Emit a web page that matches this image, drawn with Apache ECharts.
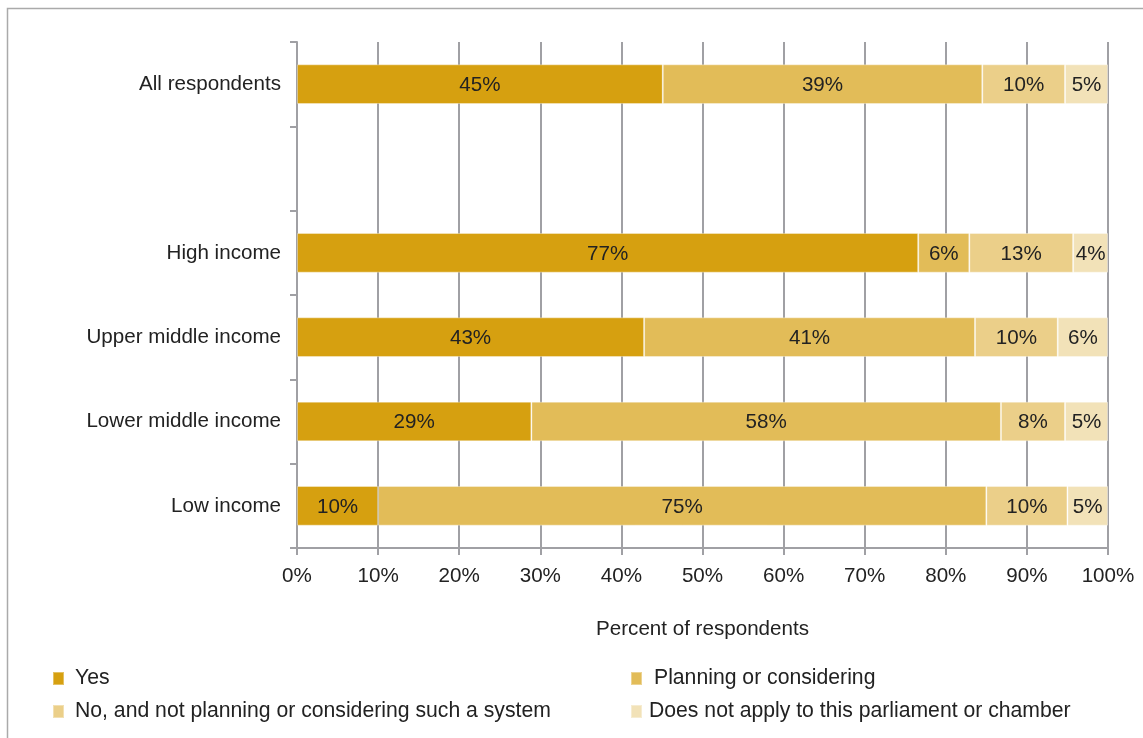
<!DOCTYPE html>
<html>
<head>
<meta charset="utf-8">
<script src="https://cdn.jsdelivr.net/npm/echarts@6/dist/echarts.min.js"></script>
<style>
html,body{margin:0;padding:0;background:#fff;}
#chart{width:1143px;height:738px;}
</style>
</head>
<body>
<div id="chart"></div>
<script>
const categories = ['All respondents', '', 'High income', 'Upper middle income', 'Lower middle income', 'Low income'];
const seriesNames = ['Yes', 'Planning or considering', 'No, and not planning or considering such a system', 'Does not apply to this parliament or chamber'];
const yesValues = [45.1, null, 76.6, 42.8, 28.9, 10.0];
const planningValues = [39.4, null, 6.3, 40.8, 57.9, 75.0];
const noValues = [10.2, null, 12.8, 10.2, 7.9, 10.0];
const naValues = [5.3, null, 4.3, 6.2, 5.3, 5.0];
const xTicks = [0, 10, 20, 30, 40, 50, 60, 70, 80, 90, 100];

const colors = ['#D6A010', '#E2BC58', '#EBCF89', '#F2E2B8'];
const FONT = '"Liberation Sans", Arial, sans-serif';
const chart = echarts.init(document.getElementById('chart'), null, {renderer: 'canvas'});

const allValues = [yesValues, planningValues, noValues, naValues];
const series = seriesNames.map((name, i) => ({
  name: name,
  type: 'bar',
  stack: 'total',
  barWidth: '47%',
  data: allValues[i],
  itemStyle: {color: colors[i], borderColor: 'rgba(255,255,255,0.35)', borderWidth: 1},
  label: {
    show: true,
    position: 'inside',
    color: '#222',
    fontFamily: FONT,
    fontSize: 20.6,
    offset: [0, 1],
    formatter: p => (p.value == null ? '' : Math.round(p.value) + '%')
  },
  emphasis: {disabled: true}
}));

const legendPos = [
  {left: 52, top: 668},
  {left: 630, top: 668},
  {left: 52, top: 701},
  {left: 630, top: 701}
];
const legendTextPad = [[0,0,0,6],[0,0,0,7],[0,0,0,6],[0,0,0,2]];
const legends = seriesNames.map((name, i) => ({
  data: [name],
  left: legendPos[i].left,
  top: legendPos[i].top,
  icon: 'rect',
  itemWidth: 11,
  itemHeight: 13,
  padding: 0,
  selectedMode: false,
  textStyle: {fontFamily: FONT, fontSize: 21.2, color: '#222', padding: legendTextPad[i]}
}));

chart.setOption({
  animation: false,
  color: colors,
  graphic: [{
    type: 'rect',
    shape: {x: 7.5, y: 8.5, width: 1200, height: 800},
    style: {fill: 'none', stroke: '#aaaaaa', lineWidth: 1.5},
    silent: true
  }],
  legend: legends,
  grid: {left: 297, right: 35, top: 42, bottom: 190, containLabel: false},
  xAxis: {
    type: 'value',
    min: 0,
    max: 100,
    interval: 10,
    name: 'Percent of respondents',
    nameLocation: 'middle',
    nameGap: 71,
    nameTextStyle: {fontFamily: FONT, fontSize: 20.6, color: '#222'},
    axisLine: {show: true, lineStyle: {color: '#a0a0a4', width: 2}},
    axisTick: {show: true, length: 7, lineStyle: {color: '#a0a0a4', width: 2}},
    axisLabel: {fontFamily: FONT, fontSize: 20.6, color: '#222', margin: 18, formatter: v => v + '%'},
    splitLine: {show: true, lineStyle: {color: '#a0a0a4', width: 2}}
  },
  yAxis: {
    type: 'category',
    inverse: true,
    data: categories,
    axisLine: {show: true, lineStyle: {color: '#a0a0a4', width: 2}},
    axisTick: {show: true, length: 7, inside: false, lineStyle: {color: '#a0a0a4', width: 2}},
    axisLabel: {fontFamily: FONT, fontSize: 20.6, color: '#222', margin: 16}
  },
  series: series
});
</script>
</body>
</html>
